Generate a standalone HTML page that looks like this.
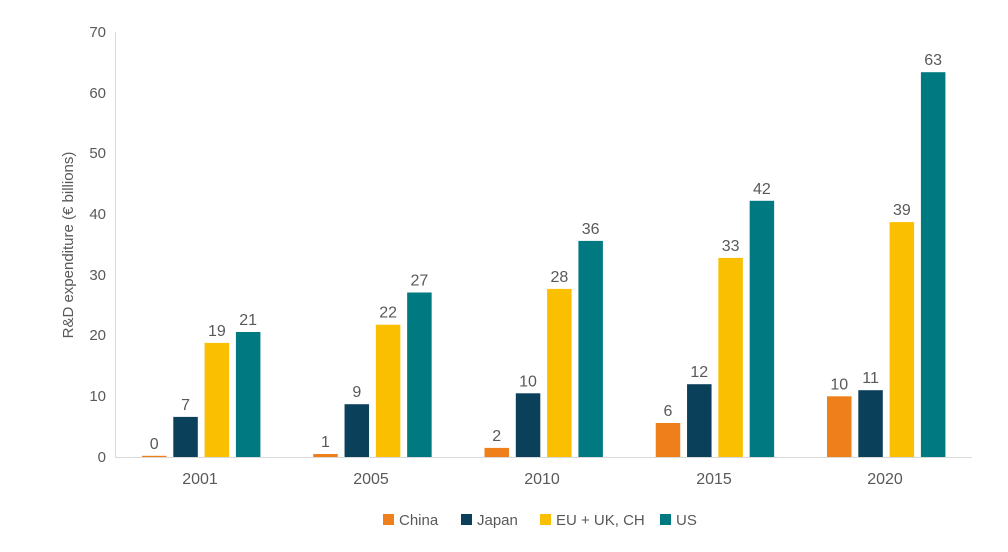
<!DOCTYPE html>
<html><head><meta charset="utf-8"><style>
body{margin:0;background:#fff;}
svg text{font-family:"Liberation Sans",sans-serif;fill:#595959;}
</style></head><body>
<svg width="1008" height="547" xmlns="http://www.w3.org/2000/svg">
<line x1="115.5" y1="32" x2="115.5" y2="457" stroke="#d9d9d9" stroke-width="1"/>
<line x1="115" y1="457.5" x2="972" y2="457.5" stroke="#d9d9d9" stroke-width="1"/>
<g font-size="15" text-anchor="end">
<text x="106" y="462">0</text><text x="106" y="401">10</text><text x="106" y="340">20</text>
<text x="106" y="280">30</text><text x="106" y="219">40</text><text x="106" y="158">50</text>
<text x="106" y="98">60</text><text x="106" y="37">70</text>
</g>
<text transform="translate(73,245) rotate(-90)" font-size="15" text-anchor="middle">R&amp;D expenditure (€ billions)</text>
<g>
<rect x="142" y="455.8" width="24.5" height="1.2" fill="#ef7f1a"/>
<rect x="173.3" y="416.9" width="24.5" height="40.1" fill="#0b405b"/>
<rect x="204.6" y="342.9" width="24.5" height="114.1" fill="#f9bf00"/>
<rect x="235.9" y="332" width="24.5" height="125" fill="#007a80"/>
<rect x="313.25" y="454" width="24.5" height="3" fill="#ef7f1a"/>
<rect x="344.55" y="404.2" width="24.5" height="52.8" fill="#0b405b"/>
<rect x="375.85" y="324.7" width="24.5" height="132.3" fill="#f9bf00"/>
<rect x="407.15" y="292.5" width="24.5" height="164.5" fill="#007a80"/>
<rect x="484.5" y="447.9" width="24.5" height="9.1" fill="#ef7f1a"/>
<rect x="515.8" y="393.3" width="24.5" height="63.7" fill="#0b405b"/>
<rect x="547.1" y="288.9" width="24.5" height="168.1" fill="#f9bf00"/>
<rect x="578.4" y="240.9" width="24.5" height="216.1" fill="#007a80"/>
<rect x="655.75" y="423" width="24.5" height="34" fill="#ef7f1a"/>
<rect x="687.05" y="384.2" width="24.5" height="72.8" fill="#0b405b"/>
<rect x="718.35" y="257.9" width="24.5" height="199.1" fill="#f9bf00"/>
<rect x="749.65" y="200.8" width="24.5" height="256.2" fill="#007a80"/>
<rect x="827" y="396.3" width="24.5" height="60.7" fill="#ef7f1a"/>
<rect x="858.3" y="390.2" width="24.5" height="66.8" fill="#0b405b"/>
<rect x="889.6" y="222.1" width="24.5" height="234.9" fill="#f9bf00"/>
<rect x="920.9" y="72.2" width="24.5" height="384.8" fill="#007a80"/>
</g>
<g font-size="16" text-anchor="middle">
<text x="154.25" y="448.8">0</text><text x="185.55" y="409.9">7</text><text x="216.85" y="335.9">19</text><text x="248.15" y="325">21</text>
<text x="325.5" y="447">1</text><text x="356.8" y="397.2">9</text><text x="388.1" y="317.7">22</text><text x="419.4" y="285.5">27</text>
<text x="496.75" y="440.9">2</text><text x="528.05" y="386.3">10</text><text x="559.35" y="281.9">28</text><text x="590.65" y="233.9">36</text>
<text x="668" y="416">6</text><text x="699.3" y="377.2">12</text><text x="730.6" y="250.9">33</text><text x="761.9" y="193.8">42</text>
<text x="839.25" y="389.3">10</text><text x="870.55" y="383.2">11</text><text x="901.85" y="215.1">39</text><text x="933.15" y="65.2">63</text>
</g>
<g font-size="16" text-anchor="middle">
<text x="200" y="484">2001</text><text x="371" y="484">2005</text><text x="542" y="484">2010</text>
<text x="714" y="484">2015</text><text x="885" y="484">2020</text>
</g>
<g font-size="15">
<rect x="383" y="514" width="11" height="11" fill="#ef7f1a"/><text x="399" y="525">China</text>
<rect x="461" y="514" width="11" height="11" fill="#0b405b"/><text x="477" y="525">Japan</text>
<rect x="540" y="514" width="11" height="11" fill="#f9bf00"/><text x="556" y="525">EU + UK, CH</text>
<rect x="660" y="514" width="11" height="11" fill="#007a80"/><text x="676" y="525">US</text>
</g>
</svg>
</body></html>
